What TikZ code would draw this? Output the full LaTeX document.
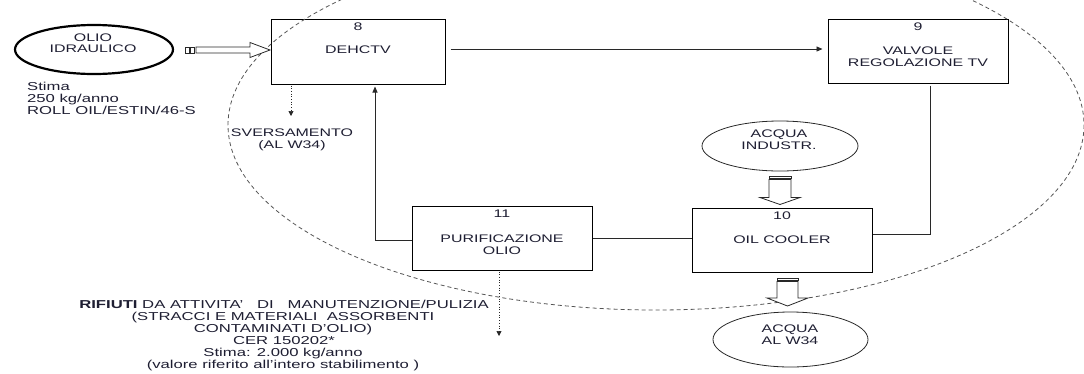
\documentclass[tikz,border=0pt]{standalone}
\usepackage{fontspec}
\setmainfont{Liberation Sans}[FakeStretch=1.45]
\usetikzlibrary{arrows.meta,shapes.geometric}
\definecolor{txtc}{RGB}{30,30,50}
\definecolor{dashc}{RGB}{85,85,85}
\definecolor{linec}{RGB}{40,40,40}
\begin{document}
\begin{tikzpicture}[x=1pt,y=-1pt,
  lbl/.style={anchor=base,text=txtc,font=\fontsize{11}{12}\selectfont,inner sep=0pt},
  lblb/.style={lbl,font=\fontsize{11.5}{12}\selectfont},
  lblw/.style={lblb,anchor=base west},
  boxn/.style={draw=black,line width=1pt,minimum width=#1,minimum height=64pt,inner sep=0pt},
  elln/.style={draw=linec,ellipse,line width=0.8pt,inner sep=0pt},
  conn/.style={draw=linec,line width=0.9pt},
  arr/.style={conn,-{Triangle[length=6pt,width=5pt]}},
  dotarr/.style={draw=linec,line width=0.7pt,dotted,-{Triangle[length=5pt,width=5pt]}},
  hollow/.style={draw=linec,line width=0.8pt,fill=white}]
\useasboundingbox (0,0) rectangle (1084,373);

% boxes
\node[boxn=174pt,minimum height=65pt] (b8) at (358,51.5) {};
\node[boxn=180pt] (b9) at (918,51) {};
\node[boxn=180pt] (b10) at (782,240) {};
\node[boxn=180pt] (b11) at (502,238) {};

% box labels
\node[lbl] (t8) at (358,30) {8};
\node[lbl] (t8b) at (358,53) {DEHCTV};
\node[lbl] (t9) at (918,30) {9};
\node[lbl] (t9b) at (918,54) {VALVOLE};
\node[lbl] (t9c) at (918,66) {REGOLAZIONE TV};
\node[lbl] (t10) at (782,219) {10};
\node[lbl] (t10b) at (782,243) {OIL COOLER};
\node[lbl] (t11) at (502,217) {11};
\node[lbl] (t11b) at (502,242) {PURIFICAZIONE};
\node[lbl] (t11c) at (502,254) {OLIO};

% ellipses
\node[elln,line width=2.2pt,draw=black,minimum width=158pt,minimum height=49pt] (oil) at (94,49.5) {};
\node[lbl] (oila) at (93,41.5) {OLIO};
\node[lbl] (oilb) at (93,52.5) {IDRAULICO};
\node[elln,minimum width=156pt,minimum height=50pt] (aqi) at (780,146) {};
\node[lbl] (aqia) at (779,137) {ACQUA};
\node[lbl] (aqib) at (779,149) {INDUSTR.};
\node[elln,minimum width=155pt,minimum height=55pt] (aqw) at (790.5,339.5) {};
\node[lbl] (aqwa) at (790,332) {ACQUA};
\node[lbl] (aqwb) at (790,344.5) {AL W34};

% free texts
\node[lblw] (st1) at (27,90.5) {Stima};
\node[lblw] (st2) at (27,102.5) {250 kg/anno};
\node[lblw] (st3) at (27,114.5) {ROLL OIL/ESTIN/46-S};
\node[lbl] (sv1) at (292,136) {SVERSAMENTO};
\node[lbl] (sv2) at (292,148) {(AL W34)};
\node[lblb] (rf1) at (284,308.5) {\textbf{RIFIUTI} DA ATTIVITA'\ \ \ DI\ \ \ MANUTENZIONE/PULIZIA};
\node[lblb] (rf2) at (283,320.5) {(STRACCI E MATERIALI\ \ ASSORBENTI};
\node[lblb] (rf3) at (283,332.5) {CONTAMINATI D'OLIO)};
\node[lblb] (rf4) at (284,344.5) {CER 150202*};
\node[lblb] (rf5) at (283,356.5) {Stima: 2.000 kg/anno};
\node[lblb] (rf6) at (283,368.5) {(valore riferito all'intero stabilimento )};

% dashed boundary
\draw[dashc,line width=0.8pt,dash pattern=on 4pt off 3pt] (656,125) ellipse [x radius=428, y radius=185];

% connectors
\draw[arr] ([xshift=5pt,yshift=2.5pt]b8.east) -- ([xshift=-5pt,yshift=2pt]b9.west);
\draw[conn] ([xshift=12pt,yshift=-2pt]b9.south) |- ([yshift=6pt]b10.east);
\draw[conn] (b11.east) -- (b11.east -| b10.west);
\draw[arr,shorten >=2pt] ([yshift=-2pt]b11.west) -| ([xshift=17pt]b8.south);
\coordinate (sv) at (291,116);
\coordinate (rf) at (499,336);
\draw[dotarr] ([yshift=-1pt]b8.south -| sv) -- (sv);
\draw[dotarr] ([yshift=-1pt]b11.south -| rf) -- (rf);

% hollow striped arrows
\draw[hollow] (185,47) rectangle (189,53);
\draw[hollow] (190.5,47) rectangle (194.5,53);
\draw[hollow] (196,47) -- (250,47) -- (250,42.5) -- (270,50) -- (250,57.5) -- (250,53) -- (196,53) -- cycle;

\draw[hollow] (769,176) rectangle (791,178);
\draw[hollow] (769,179.5) -- (791,179.5) -- (791,197.5) -- (800,197.5) -- (780,204.5) -- (760,197.5) -- (769,197.5) -- cycle;

\draw[hollow] (777,278) rectangle (798,280);
\draw[hollow] (777,281.5) -- (798,281.5) -- (798,298) -- (808,298) -- (787.5,306) -- (767,298) -- (777,298) -- cycle;
\end{tikzpicture}
\end{document}
